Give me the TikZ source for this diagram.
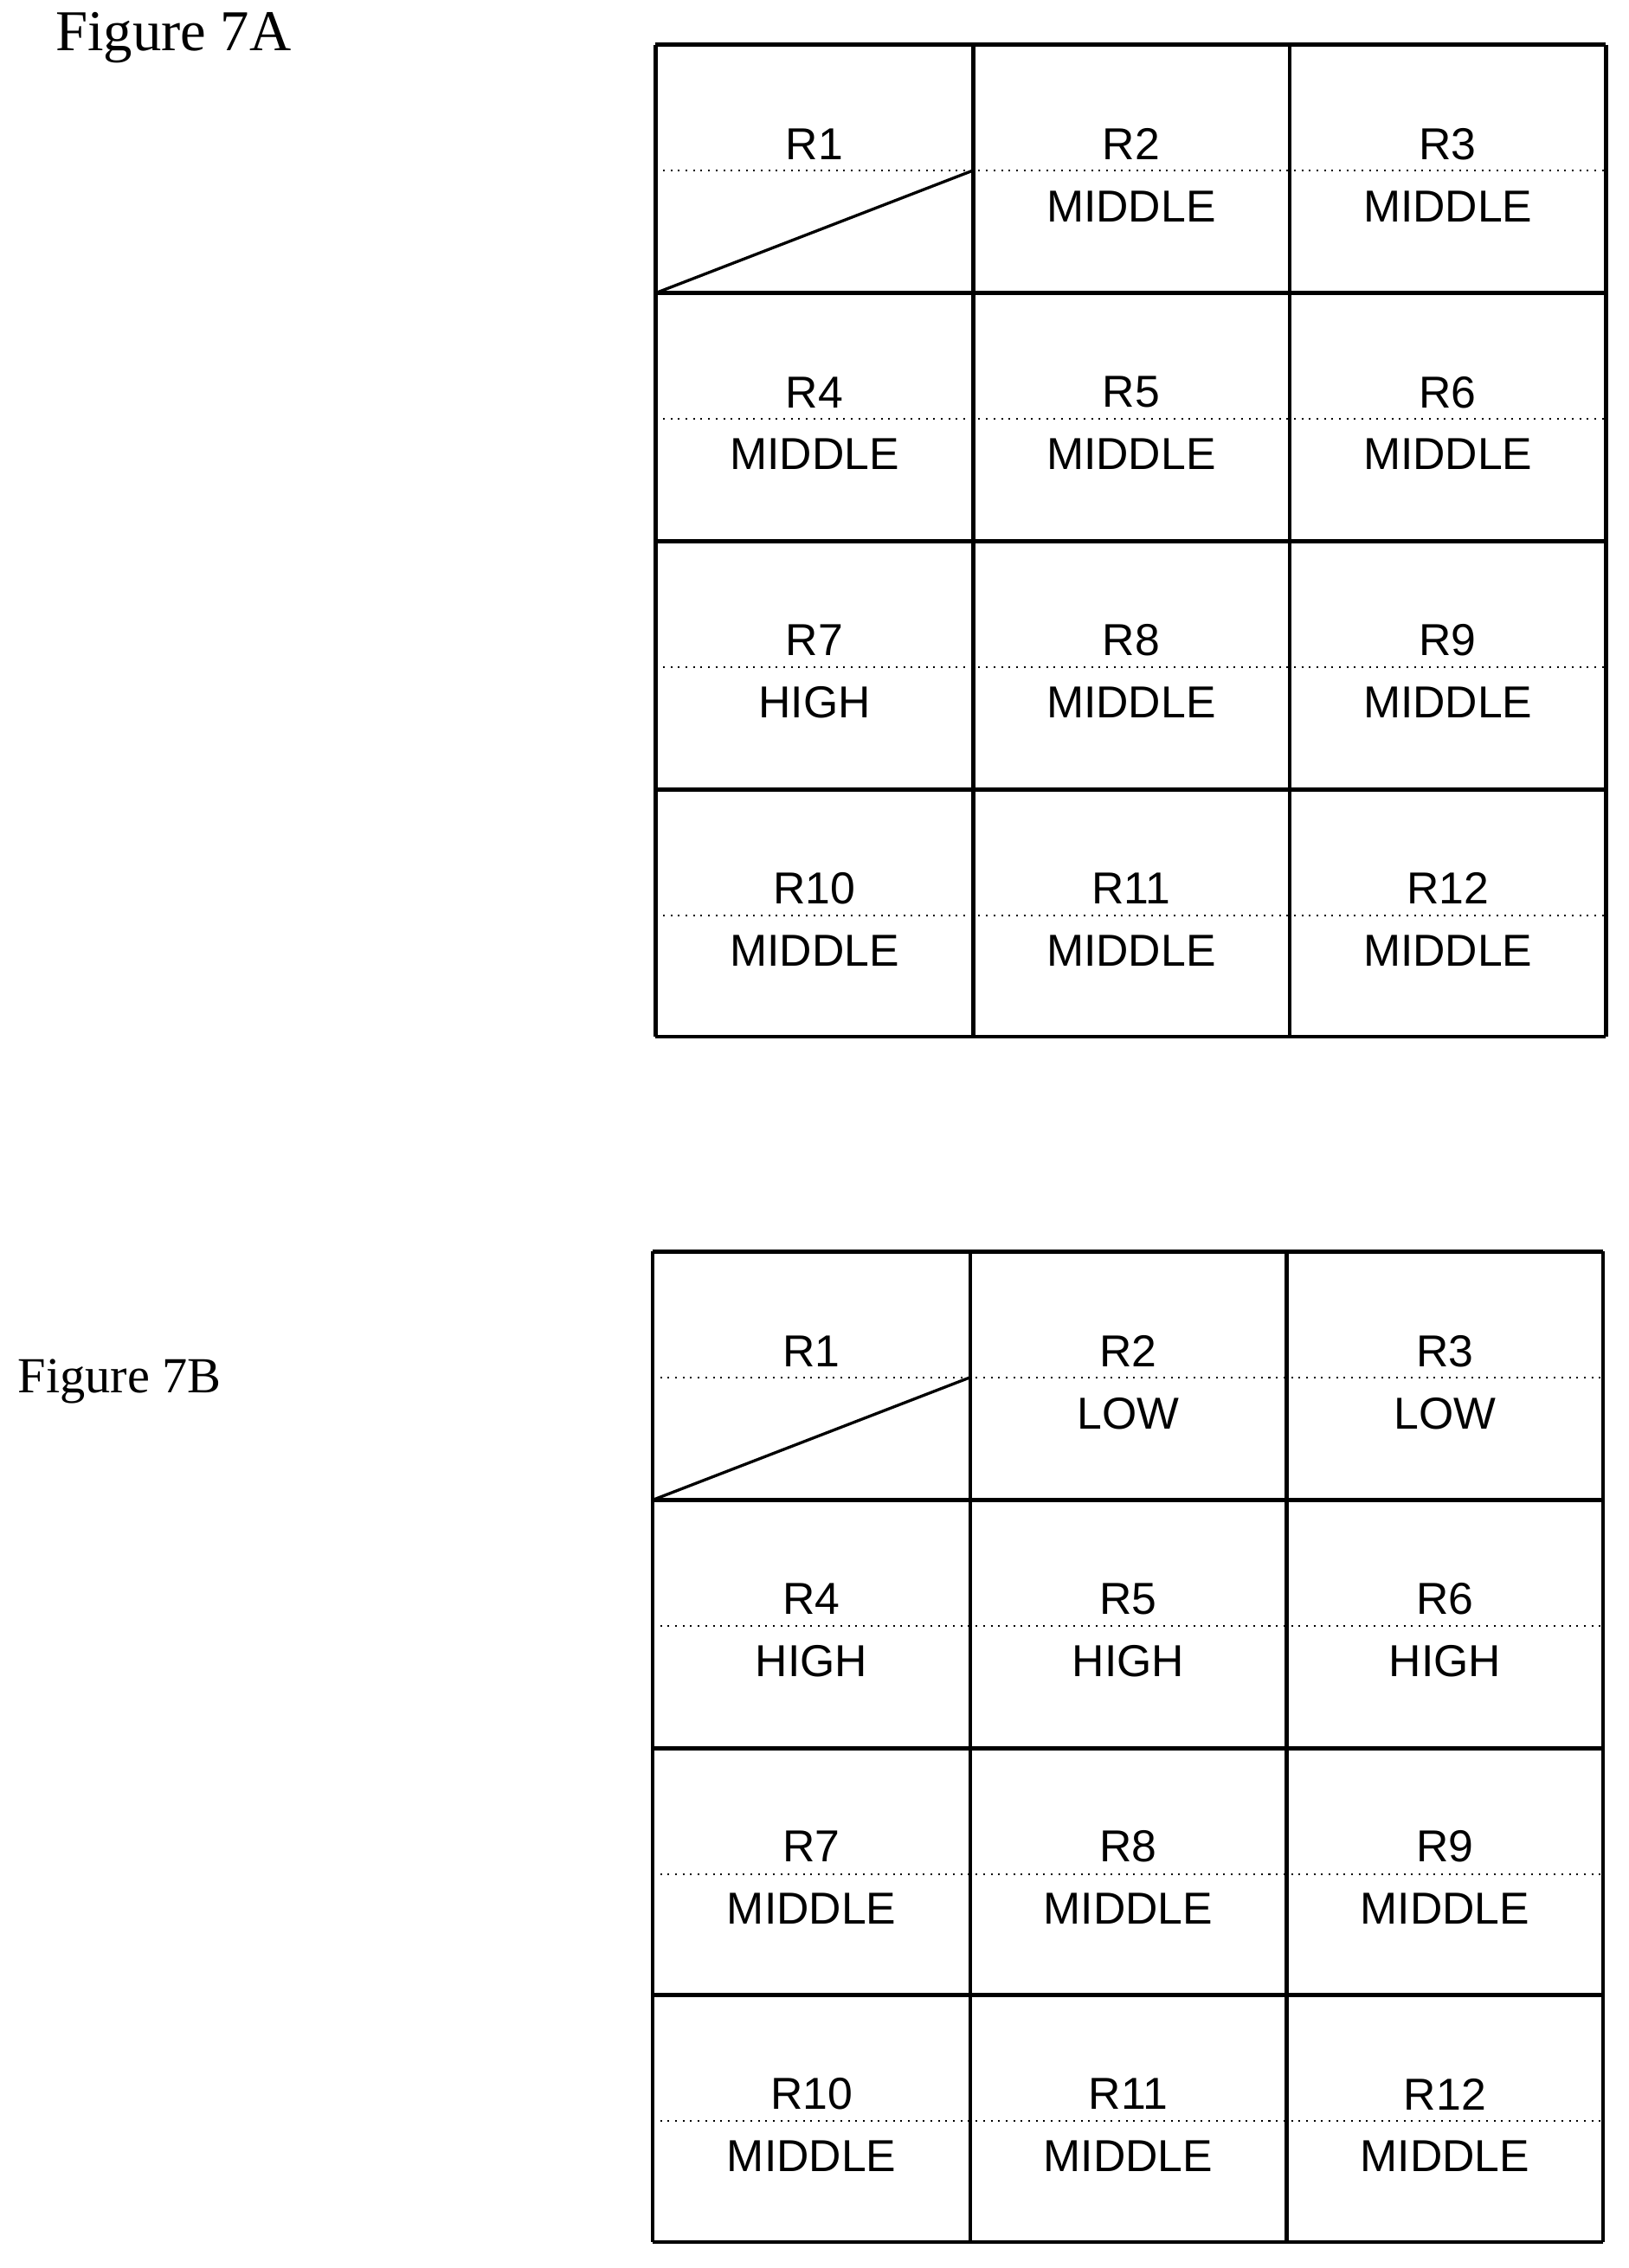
\documentclass[tikz,border=0pt]{standalone}
\usepackage{fontspec}
\setmainfont{Liberation Serif}
\setsansfont{Liberation Sans}
\begin{document}
\begin{tikzpicture}[x=0.5pt,y=-0.5pt,
    cell/.style={font=\sffamily\fontsize{15.5}{17}\selectfont},
    grid/.style={line width=1.4pt},
    sep/.style={line width=0.6pt,dotted}]
  \useasboundingbox (0,0) rectangle (1128,1571);
  \node (figA) [anchor=north west,inner sep=0pt,font=\fontsize{20}{22}\selectfont] at (38,8) {Figure 7A};
  \node (figB) [anchor=north west,inner sep=0pt,font=\fontsize{17.5}{19}\selectfont] at (12,941) {Figure 7B};
  % grid 7A
  \foreach \y in {31,203,375,547} \draw[sep] (454,\y+87) -- (1112,\y+87);
  \foreach \y in {31,203,375,547,718} \draw[grid] (454,\y) -- (1112,\y);
  \foreach \x in {454,674,893,1112} \draw[grid] (\x,31) -- (\x,718);
  \draw[line width=1pt] (454,203) -- (674,118);
  \foreach \t [count=\i from 0] in {{R1/},{R2/MIDDLE},{R3/MIDDLE},{R4/MIDDLE},{R5/MIDDLE},{R6/MIDDLE},{R7/HIGH},{R8/MIDDLE},{R9/MIDDLE},{R10/MIDDLE},{R11/MIDDLE},{R12/MIDDLE}}
    \foreach \r/\v in \t {
      \pgfmathsetmacro\cx{564+219.3*mod(\i,3)}
      \pgfmathsetmacro\cy{31+171.75*floor(\i/3)}
      \node (a\r) [cell] at (\cx,\cy+69) {\r};
      \node (av\r) [cell] at (\cx,\cy+112) {\v};
    }
  % grid 7B
  \foreach \y in {867,1039,1211,1382} \draw[sep] (452,\y+87) -- (1110,\y+87);
  \foreach \y in {867,1039,1211,1382,1553} \draw[grid] (452,\y) -- (1110,\y);
  \foreach \x in {452,672,891,1110} \draw[grid] (\x,867) -- (\x,1553);
  \draw[line width=1pt] (452,1039) -- (672,954);
  \foreach \t [count=\i from 0] in {{R1/},{R2/LOW},{R3/LOW},{R4/HIGH},{R5/HIGH},{R6/HIGH},{R7/MIDDLE},{R8/MIDDLE},{R9/MIDDLE},{R10/MIDDLE},{R11/MIDDLE},{R12/MIDDLE}}
    \foreach \r/\v in \t {
      \pgfmathsetmacro\cx{562+219.3*mod(\i,3)}
      \pgfmathsetmacro\cy{867+171.5*floor(\i/3)}
      \node (b\r) [cell] at (\cx,\cy+69) {\r};
      \node (bv\r) [cell] at (\cx,\cy+112) {\v};
    }
\end{tikzpicture}
\end{document}
